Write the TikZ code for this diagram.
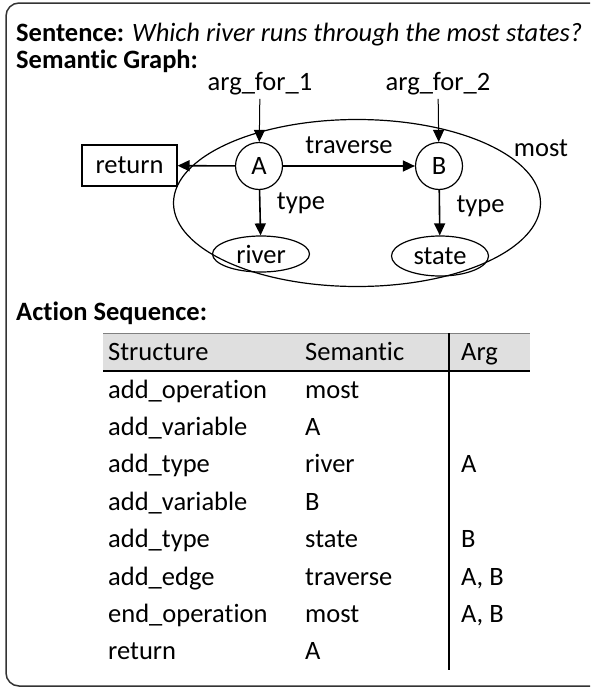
\documentclass[tikz,border=0pt]{standalone}
\usepackage{fontspec}
\setmainfont{Carlito}[Ligatures=NoCommon]
\usetikzlibrary{shapes,arrows.meta,positioning}

\newcommand{\picfont}{\fontsize{26.5}{31}\selectfont}

\begin{document}
\begin{tikzpicture}[x=1pt,y=-1pt,
    font=\picfont,
    var/.style={draw, circle, minimum size=47pt, inner sep=0pt, line width=1.2pt},
    cls/.style={draw, ellipse, inner sep=0pt, line width=1.2pt},
    edge/.style={-{Triangle[length=12pt,width=11pt]}, line width=1.6pt},
    argedge/.style={-{Triangle[length=12pt,width=11pt]}, line width=1pt},
    cell/.style={anchor=base west, inner sep=0pt},
    head/.style={cell, font=\picfont\bfseries}]
    \useasboundingbox (0,0) rectangle (590,688);
    \clip (0,0) rectangle (590,688);
    % Frame
    \draw[rounded corners=13pt, line width=1.5pt, black!80] (6,3) rectangle (620,686);

    % Header
    \node[cell] (sent) at (16,41) {\textbf{Sentence:} \textit{Which river runs through the most states?}};
    \node[head] (graphhead) at (16,68) {Semantic Graph:};

    % Semantic graph
    \node[cls, minimum width=367pt, minimum height=167pt] (most) at (357,203) {};
    \node (mostlbl) at (541,148) {most};
    \node[var] (A) at (259,166) {A};
    \node[var] (B) at (439,166) {B};
    \node[draw, line width=1.2pt, minimum width=95pt, minimum height=41pt, inner sep=0pt] (ret) at (129.5,165.5) {return};
    \node[cls, minimum width=97pt, minimum height=36pt] (river) at (261,254) {river};
    \node[cls, minimum width=97pt, minimum height=40pt] (state) at (440,256) {state};
    \node (arg1) at (260,84) {arg\_for\_1};
    \node (arg2) at (438,84) {arg\_for\_2};

    \draw[argedge] (arg1) -- (A);
    \draw[argedge] (arg2) -- (B);
    \draw[edge] (A) -- (ret);
    \draw[edge] (A) -- node[midway, above=8pt] (trav) {traverse} (B);
    \draw[edge] (A) -- node[pos=0.3, right=13pt] (typeA) {type} (river);
    \draw[edge] (B) -- node[pos=0.35, right=13pt] (typeB) {type} (state);

    % Action sequence
    \node[head] (seqhead) at (16,320) {Action Sequence:};
    \fill[gray!25] (103,333) rectangle (530,371);
    \draw[gray, line width=0.8pt] (103,333) -- (530,333);
    \draw[line width=1.8pt] (103,371) -- (530,371);
    \draw[line width=1.8pt] (449,333) -- (449,670);
    \node[cell] (hs) at (108,360) {Structure};
    \node[cell] (hm) at (305,360) {Semantic};
    \node[cell] (ha) at (461,360) {Arg};
    \foreach \s/\m/\a [count=\i] in {add\_operation/most/, add\_variable/A/, add\_type/river/A,
        add\_variable/B/, add\_type/state/B, add\_edge/traverse/{A, B},
        end\_operation/most/{A, B}, return/A/} {
        \node[cell] (s\i) at (108,360.6+37.4*\i) {\s};
        \node[cell] (m\i) at (305,360.6+37.4*\i) {\m};
        \node[cell] (a\i) at (461,360.6+37.4*\i) {\a};
    }
\end{tikzpicture}
\end{document}
